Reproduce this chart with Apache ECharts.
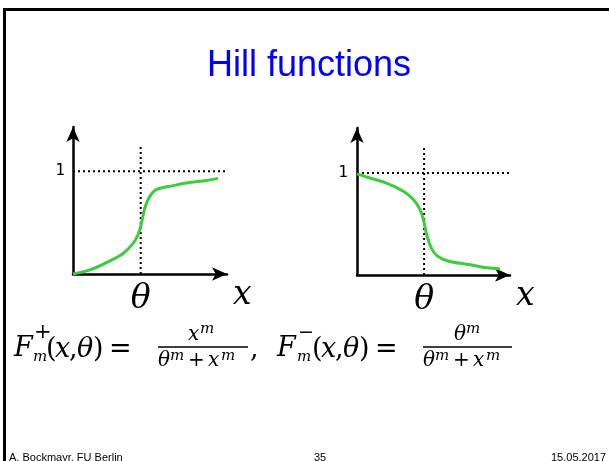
<!DOCTYPE html>
<html>
<head>
<meta charset="utf-8">
<script src="https://cdn.jsdelivr.net/npm/echarts@6/dist/echarts.min.js"></script>
<style>
  html, body { margin: 0; padding: 0; background: #fff; }
  #chart { width: 609px; height: 461px; }
</style>
</head>
<body>
<div id="chart"></div>
<script>
// Activating Hill function F+ : sigmoid rising through theta
const upX = [0, 0.25, 0.49, 0.74, 0.89, 0.96, 1.01, 1.06, 1.13, 1.23, 1.48, 1.72, 1.97, 2.14];
const upY = [0, 0.04, 0.11, 0.20, 0.30, 0.38, 0.49, 0.64, 0.75, 0.82, 0.86, 0.89, 0.91, 0.93];

// Repressing Hill function F- : sigmoid falling through theta
const downX = [0, 0.19, 0.44, 0.69, 0.84, 0.94, 0.99, 1.04, 1.11, 1.19, 1.34, 1.69, 1.94, 2.13];
const downY = [0.99, 0.95, 0.90, 0.82, 0.74, 0.64, 0.54, 0.39, 0.26, 0.19, 0.14, 0.10, 0.07, 0.06];

// Threshold and saturation level
const theta = 1;
const level = 1;
const xTickLabels = { [theta]: 'θ' };
const yTickLabels = { [level]: '1' };

// Extent of the dotted guides: [horizontal end x, vertical top y]
const upGuideEnd = [2.32, 1.24];
const downGuideEnd = [2.36, 1.25];

const pairs = (xs, ys) => xs.map((x, i) => [x, ys[i]]);

function xAxisFor(gridIndex, max) {
  return {
    type: 'value', gridIndex, min: 0, max, interval: 1,
    axisLine: { show: true, symbol: ['none', 'arrow'], symbolSize: [10, 15],
      lineStyle: { color: '#000', width: 2.5 } },
    axisTick: { show: false },
    splitLine: { show: false },
    axisLabel: {
      formatter: v => xTickLabels[v] || '',
      fontFamily: 'DejaVu Serif', fontStyle: 'italic', fontSize: 33, color: '#000', margin: 9
    },
    name: 'x', nameLocation: 'end', nameGap: 6,
    nameTextStyle: { fontFamily: 'DejaVu Serif', fontStyle: 'italic', fontSize: 33, color: '#000',
      verticalAlign: 'top', align: 'left', padding: [5, 0, 0, 0] }
  };
}

function yAxisFor(gridIndex, max, margin) {
  return {
    type: 'value', gridIndex, min: 0, max, interval: 1,
    axisLine: { show: true, symbol: ['none', 'arrow'], symbolSize: [10, 15],
      lineStyle: { color: '#000', width: 2.5 } },
    axisTick: { show: false },
    splitLine: { show: false },
    axisLabel: {
      formatter: v => yTickLabels[v] || '',
      fontFamily: 'DejaVu Sans Mono', fontSize: 16, color: '#000', margin
    }
  };
}

function curve(idx, data) {
  return {
    type: 'line', xAxisIndex: idx, yAxisIndex: idx, data,
    smooth: 0.35, symbol: 'none', silent: true, clip: false, z: 3,
    lineStyle: { color: '#3ccc3c', width: 3 }
  };
}

function guide(idx, data) {
  return {
    type: 'line', xAxisIndex: idx, yAxisIndex: idx, data,
    symbol: 'none', silent: true, clip: false, z: 2,
    lineStyle: { color: '#000', width: 2, type: [2, 3] }
  };
}

// Formula pieces: [text, left, middle, size, italic]
const formula = [
  ['F', 14, 349, 27, 1], ['+', 34, 333, 21, 0], ['m', 33, 357, 15, 1],
  ['(', 46, 350, 27, 0], ['x', 55, 350, 27, 1], [',', 69, 350, 27, 0],
  ['θ', 77, 350, 27, 1], [')', 93, 350, 27, 0], ['=', 109, 350, 27, 0],
  ['x', 188, 335, 20, 1], ['m', 200, 329, 15, 1],
  ['θ', 158, 361, 20, 1], ['m', 170, 356, 15, 1], ['+', 188, 361, 20, 0],
  ['x', 208, 361, 20, 1], ['m', 221, 356, 15, 1],
  [',', 250, 350, 27, 0],
  ['F', 277, 349, 27, 1], ['−', 298, 333, 19, 0], ['m', 297, 357, 15, 1],
  ['(', 312, 350, 27, 0], ['x', 321, 350, 27, 1], [',', 335, 350, 27, 0],
  ['θ', 343, 350, 27, 1], [')', 359, 350, 27, 0], ['=', 375, 350, 27, 0],
  ['θ', 454, 335, 20, 1], ['m', 466, 329, 15, 1],
  ['θ', 423, 361, 20, 1], ['m', 435, 356, 15, 1], ['+', 453, 361, 20, 0],
  ['x', 473, 361, 20, 1], ['m', 486, 356, 15, 1]
];

const graphics = [
  // slide frame
  { type: 'line', shape: { x1: 4, y1: 9.5, x2: 609, y2: 9.5 }, style: { stroke: '#000', lineWidth: 3 } },
  { type: 'line', shape: { x1: 4.5, y1: 8, x2: 4.5, y2: 461 }, style: { stroke: '#000', lineWidth: 3 } },
  // heading
  { type: 'text', x: 309, y: 66, style: { text: 'Hill functions', fill: '#0000ff',
      font: '36px "Liberation Sans", Arial, sans-serif', align: 'center', verticalAlign: 'middle' } },
  // fraction bars
  { type: 'line', shape: { x1: 158, y1: 347, x2: 248, y2: 347 }, style: { stroke: '#000', lineWidth: 1.3 } },
  { type: 'line', shape: { x1: 423, y1: 347, x2: 512, y2: 347 }, style: { stroke: '#000', lineWidth: 1.3 } },
  // footer
  { type: 'text', x: 9, y: 458, style: { text: 'A. Bockmayr, FU Berlin', fill: '#000',
      font: '11px "Liberation Sans", Arial, sans-serif', align: 'left', verticalAlign: 'middle' } },
  { type: 'text', x: 320, y: 458, style: { text: '35', fill: '#000',
      font: '11px "Liberation Sans", Arial, sans-serif', align: 'center', verticalAlign: 'middle' } },
  { type: 'text', x: 551, y: 458, style: { text: '15.05.2017', fill: '#000',
      font: '11px "Liberation Sans", Arial, sans-serif', align: 'left', verticalAlign: 'middle' } }
];
formula.forEach(([t, x, y, s, it]) => {
  graphics.push({ type: 'text', x, y, style: { text: t, fill: '#000',
    font: (it ? 'italic ' : '') + s + 'px "DejaVu Serif", serif', align: 'left', verticalAlign: 'middle' } });
});

const chart = echarts.init(document.getElementById('chart'), null, { renderer: 'canvas' });
chart.setOption({
  animation: false,
  backgroundColor: '#fff',
  grid: [
    { left: 73, top: 127, width: 154, height: 147 },
    { left: 357, top: 128, width: 153, height: 147 }
  ],
  xAxis: [xAxisFor(0, 2.275), xAxisFor(1, 2.28)],
  yAxis: [yAxisFor(0, 1.43, 8), yAxisFor(1, 1.44, 9)],
  series: [
    guide(0, [[0, level], [upGuideEnd[0], level]]),
    guide(0, [[theta, 0], [theta, upGuideEnd[1]]]),
    curve(0, pairs(upX, upY)),
    guide(1, [[0, level], [downGuideEnd[0], level]]),
    guide(1, [[theta, 0], [theta, downGuideEnd[1]]]),
    curve(1, pairs(downX, downY))
  ],
  graphic: graphics
});
</script>
</body>
</html>
